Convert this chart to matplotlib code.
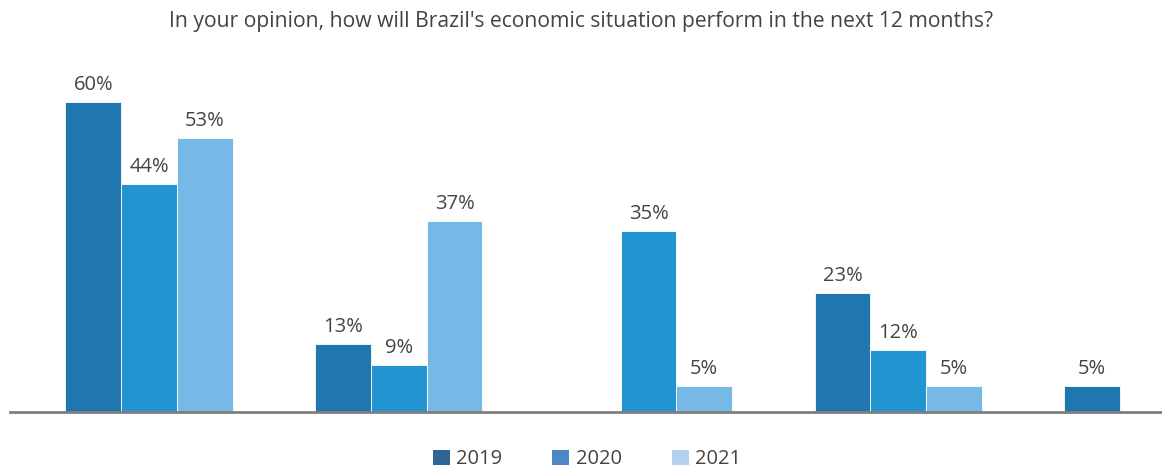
import numpy as np
import matplotlib
matplotlib.use("Agg")
import matplotlib.pyplot as plt
from matplotlib.patches import Patch

plt.rcParams['font.family'] = ['Open Sans', 'DejaVu Sans']

title = "In your opinion, how will Brazil's economic situation perform in the next 12 months?"
categories = ["A", "B", "C", "D", "E"]
series_names = ["2019", "2020", "2021"]
v2019 = [60, 13, np.nan, 23, 5]
v2020 = [44, 9, 35, 12, np.nan]
v2021 = [53, 37, 5, 5, np.nan]
bar_colors = ["#2076ae", "#2294d2", "#77b9e6"]
legend_colors = ["#2e6496", "#4d87c7", "#b3d1ee"]
text_color = "#444444"

W, H = 1162, 470
fig = plt.figure(figsize=(W / 100, H / 100), dpi=100)
base_px = 411.5
top_px = 60
ax = fig.add_axes([10 / W, (H - base_px) / H, 1152 / W, (base_px - top_px) / H])

px_per_unit = 5.16
ax.set_ylim(0, (base_px - top_px) / px_per_unit)
spacing = 249.75
ax.set_xlim((10 - 149) / spacing, (1162 - 149) / spacing)

x = np.arange(len(categories))
w = 55.7 / spacing
for j, (vals, c) in enumerate(zip([v2019, v2020, v2021], bar_colors)):
    pos = x + (j - 1) * w
    vals = np.array(vals, dtype=float)
    ax.bar(pos, vals, width=w, color=c, edgecolor="#ffffff", linewidth=0.6, zorder=2)
    for xi, v in zip(pos, vals):
        if not np.isnan(v):
            ax.text(xi, v + 7 / px_per_unit, f"{v:.0f}%", ha="center", va="bottom",
                    fontsize=14.5, color=text_color)

for s in ["top", "right", "left"]:
    ax.spines[s].set_visible(False)
ax.spines["bottom"].set_color("#7f7f7f")
ax.spines["bottom"].set_linewidth(2)
ax.spines["bottom"].set_zorder(3)
ax.set_xticks([])
ax.set_yticks([])

fig.text(0.5, 1 - 22 / H, title, ha="center", va="center", fontsize=15.2, color=text_color)

handles = [Patch(facecolor=c, edgecolor="none") for c in legend_colors]
fig.legend(handles, series_names, loc="center", bbox_to_anchor=(0.5 + 6 / W, 1 - 459.5 / H), ncol=3,
           frameon=False, fontsize=14.5, labelcolor=text_color, handlelength=0.83, handleheight=0.83,
           handletextpad=0.32, columnspacing=2.5, borderpad=0.1)

fig.savefig("out.png", dpi=100)
